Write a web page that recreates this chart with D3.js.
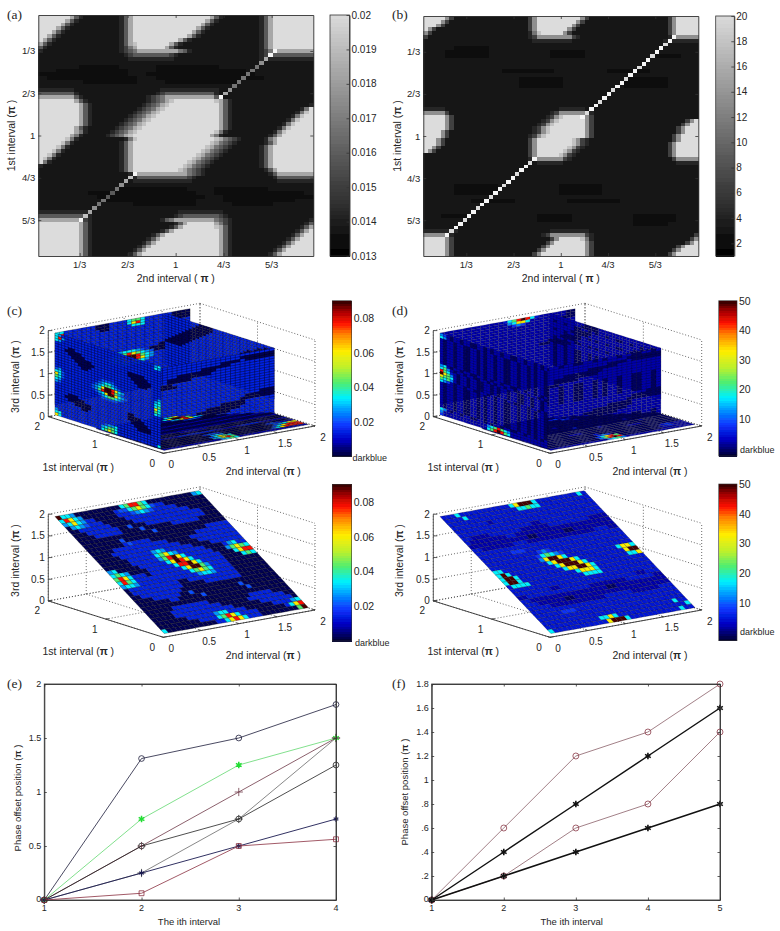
<!DOCTYPE html>
<html><head><meta charset="utf-8">
<style>html,body{margin:0;padding:0;background:#fff}svg{display:block}text{font-family:"Liberation Sans",Arial,sans-serif;fill:#262626}</style>
<script src="https://cdn.jsdelivr.net/npm/d3@7"></script></head><body>
<script>
// ---------- (a) gray levels: upper half of the map, lower half is its point reflection
const heatA=["9.7 7 4 2 1.8 2 4 7 9.17 7 4 2 1.8 2 4 7 9.9","9.6 7 4 2 1.9 2 4 7 9.16 7 4 2 1.9 2 4 7 9.9","9.5 7 4 2 1.10 2 4 7 9.15 7 4 2 1.10 2 4 7 9.9","9.4 7 4 2 1.11 2 4 7 9.14 7 4 2 1.11 2 4 7 9.9","9.3 7 4 2 1.12 2 4 7 9.13 7 4 2 1.12 2 4 7 9.9","9.2 7 4 2 1.13 2 4 7 9.12 7 4 2 1.13 2 4 7 9.9","9 7 4 2 1.14 2 4 7 9.10 7 4 2 1.15 2 4 7 9.9","7 4 2 1.15 2 4 7 8 9.7 7 4 2 1.17 2 4 7 9.9","4 2 1.16 2 3 5 7 9.6 7 4 2 1.18 2 4 7 9.9","2 1.17 2 3 4 5 7.9 5 4 2 1.15 2 3 5 7.9","1.19 2 3 4 4.7 3 2 1.18 2 3 4 4.9","1.20 2.10 1.19 2.12","1.61","1.9 0.9 1.8 0.14 1.21","1.4 0.16 1.6 0.20 1.15","0.20 1.4 0.24 1.13","1.2 0.20 1.4 0.24 1.11","1.10 0.12 1.6 0.16 1.17","1.61","2.8 1.19 2.13 1.21","4.8 2 1.17 2 3 4.11 2 1.21","7.8 4 2 1.14 2 3 4 5 7.11 4 2 1.20","9.8 7 4 2 1.13 2 3 4 5 7 8 9.10 7 4 2 1.18","9.9 7 4 2 1.11 2 3 4 5 7 8 9.11 7 4 2 1.17 2","9.9 7 4 2 1.10 2 3 4 5 7 8 9.12 7 4 2 1.15 2 5 9","9.9 7 4 2 1.9 2 3 4 5 7 8 9.13 7 4 2 1.14 2 5 8 9","9.9 7 4 2 1.8 2 3 4 5 7 8 9.14 7 4 2 1.13 2 5 8 9.2","9.9 7 4 2 1.7 2 3 4 5 7 8 9.15 7 4 2 1.12 2 5 8 9.3","9.9 7 4 2 1.6 2 3 4 5 7 8 9.16 7 4 2 1.11 2 5 8 9.4","9.8 7 4 2 1.6 2 3 4 5 7 8 9.17 7 4 2 1.10 2 5 8 9.5","9.8 7 5 2 1.5 2 3 4 5 7 8 9.17 8 5 2 1.10 2 5 8 9.6","9.7 7 5 2 1.5 2 3 4 5 7 8 9.17 7 5 2 1.10 2 4 7 9.7"];
const diagALower=[9,10,8,7,6,5,5,4,4,5,6,7,8,10];
const diagAUpper=[8,10,7,6,5,5,5,5,5,5,6,7,10,10];
// ---------- (b)
const heatB=["9.5 6 3 1.17 3 6 9.10 6 3 1.18 3 6 9.5","9.4 6 3 1.18 3 6 9.9 6 3 1.19 3 6 9.5","9.3 6 3 1.19 3 6 9.8 6 3 1.20 3 6 9.5","9 6 3 1.21 3 6 9.7 6 3 1.21 3 6 9.5","6 3 1.22 2 5 8 9.5 6 3 1.22 3 6 9.5","3 1.23 2 3 6.8 3 2 1.20 2 3 6.5","1.25 2.9 1.21 2.8","1.63","1.7 0.8 1.48","1.5 0.10 1.14 0.8 1.26","1.5 0.10 1.14 0.8 1.16 0.6 1.4","1.63","1.63","1.63","1.18 0.12 1.12 0.10 1.11","1.63","1.22 0.10 1.14 0.10 1.7","1.22 0.10 1.14 0.10 1.7","1.22 0.10 1.14 0.10 1.7","1.63","1.63","1.63","1.63","1.63","2.5 1.26 2.6 1.26","6.5 3 1.23 2 3 6.6 3 2 1.24","9.5 6 3 1.21 2 3 6 8 9.5 6 3 1.24","9.5 6 3 1.20 2 3 6 8 9.6 6 3 1.21 3 6 9","9.5 6 3 1.19 2 3 6 8 9.7 6 3 1.20 3 6 9.2","9.5 6 3 1.18 2 3 6 8 9.8 6 3 1.19 3 6 9.3","9.4 6 3 1.19 2 3 6 8 9.8 6 3 1.19 3 6 9.3","9.4 6 3 1.18 2 3 6 8 9.9 6 3 1.18 3 6 9.4"];
const diagB=[10,9,10,10,9,10,10,9,10,10,9,10,10,9,10,10,9,10,10,9,10,9,9,9,9,9,9,9,9,9,9,10,9,10,10,9,10,10,9,10,10,9,10,10,9,10,10,9,10,10,9,10,10];
const grayLevels=[0.05,0.1,0.18,0.29,0.41,0.53,0.65,0.76,0.88,1,1.12];
const tickThirds=["1/3","2/3","1","4/3","5/3"];
const tickThirdVals=[1/3,2/3,1,4/3,5/3];
const barATicks=[0.013,0.014,0.015,0.016,0.017,0.018,0.019,0.02];
const barBTicks=[2,4,6,8,10,12,14,16,18,20];
// ---------- (c) surfaces (levels 0..9 on the colour bar, _ = not shown)
const cLeftWall=["54 2.28 45","584 2.27 54","54 2.30","2.32","2.4 0.2 2.26","2.3 0.5 2.24","2.4 0.5 2.13 0.5 2.5","2.5 0.6 2.11 0.6 2.4","2.6 0.6 2.11 0.6 2.3","2.7 0.4 2.13 0.5 2.3","2.8 0.2 2.15 0.3 2.4","2.32","2.14 3.4 2.14","34 2.11 345543 2.12 4","553 2.9 34566543 2.10 45","753 2.8 3457998754 2.9 55","653 2.8 3468998643 2.9 56","54 2.10 3457997543 2.8 75","43 2.11 34566543 2.9 65","2.14 3.5 2.11 54","2.32","2.32","2.4 0.3 2.15 0.2 2.8","2.3 0.6 2.13 0.4 2.6","2.4 0.7 2.11 0.5 2.5","2.6 0.5 2.12 0.5 2.4","2.8 0.2 2.14 0.5 2.3","2.25 0.4 2.3","2.32","4 2.14 3445 2.13","55 2.12 45665 2.13","75 2.12 56765 2.12 5"];
const cBackWall=["55 2.7 000 2.4 5665 2.6 0.4","58 2.7 000 2.4 5785 2.6 0.4","5 2.9 00 2.5 555 2.6 0.6","2.30","2.30","2.30","2.30","2.30","2.30","2.30","2.25 0.3 2.2","2.23 0.5 2.2","2.13 34555432 0.5 2.4","2.12 3456876543 0.3 2.5","2.12 4568998654 2.8","2.12 4567998754 2.8","2.13 45677654 2.9","2.14 455554 2.10","2.30","2.30","2.30","2.30","2.30","2.30","2.30","2.30","2.30","2.30"];
const cSideWall=["2.10 0.4 2.18","2.9 0.5 2.15 0.3","2.8 0.5 2.14 0.5","2.7 0.5 2.14 0.6","2.6 0.5 2.13 0.6 2.2","2.5 0.5 2.13 0.6 2.3","2.4 0.5 2.13 0.6 2.4","2.3 0.5 2.15 0.4 2.5","2.2 0.5 2.25","2 0.5 2.26","0.5 2.27","2.32","2.32","2.32","2.32","2.32","2.32","2.32","2.32","2.32"];
const cFrontWall=["2.25","2.18 0.7","2.14 0.4 2 0.6","2.10 0.6 2.9","2.5 0.8 2.12","2.3 0.9 2.13","2.3 0.5 2.17","0.4 2.21","2 0.4 2.20","2.25","2.25","2.25","2.25","2.25","2.25","2.22 0.3","2.19 0.6","2.18 0.7","2.14 0.5 2.6","2.11 0.8 2.6","2.9 0.9 2.7","2.9 0.7 2.9","2.10 0.3 2.12","2.25","2.25","2.25"];
const cFloor=["1.13 3 _.18","1.14 567 _.15","1.13 579986 _.13","1.14 4578754 _.11","0.16 2332000 _.9","0.25 _.7","1.27 _.5","0.29 _.3","1.31 _","0.32","1.32","0.10 1.6 0.16","0.32","1.8 2.8 1.6 2.4 1.6","0.32","0.12 2332 0.10 2321","0.13 454 0.11 3457","0.12 35765 0.9 3578","0.12 45786 0.8 3578","1.13 4565 1.14"];
const cPlane=["9554 0.10 568865 0.10 45","58754 0.7 233 56765 322 0.9","45754 22 0.5 2223 454 322222 0.7","0454 3222 0.5 2.14 0.5","00 2.7 0.5 2.15 000","000 2.7 00 3 000 2.13 000","0.4 2.6 0.4 3 0.6 2.6 0.5","0.16 3 0.15","0.8 3 0.18 2.5","0.8 232222 0.10 2.8","0.5 2.12 0.5 2.10","0.4 2.15 0.4 2.9","0.5 2.7 454 2.6 0.4 2.7","0.6 2.6 56754 2.6 0.4 24522","0.6 2.6 468975 2.6 000 46765","45 0.5 2.6 579875 2.6 000 5788","5654 0.4 2.6 588975 2.5 0.4 565","6875 222 0 2.7 579964 2.4 0.7","5865 2.12 56765 2.4 0.7","4554 2.13 4554 2.4 0.7","0 2.11 00 2.11 0.7","0 2.11 0.5 2.8 0.7","00 2.9 0.21","0.4 2.6 00 3 0.10 3 0.8","0.7 22 0.5 3 0.9 3 0.7","0.32","0.6 2.8 0.9 2.5 0.4","0.5 2.11 0.6 2.8 00","0.5 2.13 0.6 2.7 0","0.7 2.6 455 2.4 0.6 222 245","0.9 2.4 56875 2.4 0.6 2 578","5 0.11 22 57875 222 0.8 69"];
const cBarTicks=[0.02,0.04,0.06,0.08];
// ---------- (d) surfaces
const dWallRow="10110110011010110110011011010110";
const dLeftWall=["43"+dWallRow,"54"+dWallRow,dWallRow,dWallRow,dWallRow,dWallRow,dWallRow,dWallRow,dWallRow,dWallRow,dWallRow,dWallRow,"45"+dWallRow,"564"+dWallRow,"8652"+dWallRow,"9764"+dWallRow,"7665"+dWallRow,"6564"+dWallRow,"543"+dWallRow,dWallRow,dWallRow,dWallRow,dWallRow,dWallRow,dWallRow,dWallRow,dWallRow,dWallRow,dWallRow,"54"+dWallRow,"4 1.13 4568654 1.11","3 1.13 5689865 1.11"];
const dBackWall=["1.14 2568985 2 1.6 0.2","1.15 45775 1.8 0.2","1.16 343 1.8 0.2","1.30","1.30","1.30","1.30","1.30","1.30","1.30","1.24 0.4 1.2","1.22 0.5 1.3","1.30","1.30","1.30","1.30","1.30","1.30","1.30","1.30","1.30","1.30","1.30","1.30","1.30","1.30","1.30","1.30"];
const dSideWall=["1.10 0.4 1.18","1.9 0.5 1.15 0.3",dWallRow,"1.7 0.5 1.14 0.6","1.6 0.5 1.13 0.6 1.2",dWallRow,"1.4 0.5 1.13 0.6 1.4","1.3 0.5 1.15 0.4 1.5",dWallRow,"1 0.5 1.26","0.5 1.27",dWallRow,dWallRow,dWallRow,dWallRow,dWallRow,dWallRow,dWallRow,dWallRow,dWallRow];
const dFrontWall=[dWallRow,"1.18 0.7","1.14 0.4 1 0.6","1.10 0.6 1.9","1.5 0.8 1.12","1.3 0.9 1.13","1.3 0.5 1.17","0.4 1.21",dWallRow,dWallRow,dWallRow,dWallRow,dWallRow,dWallRow,dWallRow,"1.22 0.3","1.19 0.6","1.18 0.7","1.14 0.5 1.6","1.11 0.8 1.6","1.9 0.9 1.7","1.9 0.7 1.9","1.10 0.3 1.12",dWallRow,dWallRow,dWallRow];
const dFloor=["0.13 1 _.18","0.15 1 _.16","0.13 2 3 1 0 1 0 _.13","0.15 3 2 0.3 1 _.11","0.17 1 0.4 _.10","1 0 1 0.22 _.7","0.27 _.5","0.10 1 0.18 _.3","0.31 _","1 0.12 2 0.10 1 0.7","0.32","0.17 1 0.8 1 0.5","1 0.31","0.9 1.3 0.10 1.3 0.7","0.32","0.13 2 0.18","0.13 3 4 3 0.11 2 3 1","0.12 35786 0.9 1 2 3 1","0.12 46898 0.9 1 1 1","1.13 4564 1.14"];
const dPlane=["222 5 2.11 579995 2.9 5 2","2222 5 2.11 55655 2.11","2.32","2.8 1 2.23","2.32","2.16 11 2.14","22 1.4 2.7 1.6 2.9 1.4","2 1.8 22 1.21","1.13 00 1.6 00 1.9","22 1.7 2.3 1.15 2.3 11","2.32","2.7 333 2.22","2.12 343 2.17","2.11 356543 2.15","2.11 4799752 2.10 5775","55 2.10 5799975 2.9 2799","595 2.10 5799975 2.9 557","5995 2.10 5779975 2.11","5995 2.11 2577752 2.10","25555 2.12 5555 2.11","2.32","2.8 11 2.17 11 22","11 2.14 1.8 2.6 11","22 1.17 00 1.11","222 1.6 00 1.21","2.5 1.12 2.6 1.6 222","2.32","2.6 333 2.23","2.32","2.29 5 22","2.12 55752 2.14 5","5 2.12 79995 2.11 5 22"];
const dBarTicks=[10,20,30,40,50];
// level of a surface cell → position on its colour bar
const surfaceLevels=[0.02,0.09,0.16,0.22,0.29,0.37,0.47,0.66,0.85,0.98];
const surfaceLevelsD=[0.03,0.085,0.135,0.19,0.27,0.37,0.47,0.66,0.85,0.98];
const jetPos=[0,0.1,0.2,0.3,0.37,0.47,0.56,0.67,0.78,0.85,0.93,1];
const jetCol=["#000038","#0000c0","#0a38ff","#00a0ff","#00f0ff","#50ee70","#b8f030","#ffee00","#ff8000","#ff1000","#a00000","#200000"];
const tickS2=[0,0.5,1,1.5,2],tickS1=[0,1,2],tickZ=[0,0.5,1,1.5,2];
// ---------- (e)
const eX=[1,2,3,4];
const eA=[0,1.31,1.5,1.81],eB=[0,0.75,1.25,1.5],eC=[0,0.5,1,1.5],eD=[0,0.5,0.75,1.25],eE=[0,0.25,0.75,1.5],eF=[0,0.25,0.5,0.75],eG=[0,0.0625,0.5,0.5625];
const eYTicks=[0,0.5,1,1.5,2],eYLabels=["0","0.5","1","1.5","2"];
// ---------- (f)
const fX=[1,2,3,4,5];
const fA=[0,0.6,1.2,1.4,1.8],fB=[0,0.4,0.8,1.2,1.6],fC=[0,0.2,0.6,0.8,1.4],fD=[0,0.2,0.4,0.6,0.8];
const fYTicks=[0,0.2,0.4,0.6,0.8,1,1.2,1.4,1.6,1.8],fYLabels=["0",".2",".4",".6",".8","1","1.2","1.4","1.6","1.8"];

const svg=d3.select("body").append("svg").attr("width",780).attr("height",931);
const defs=svg.append("defs");
[["soft",0.75],["soft3",0.35]].forEach(([id,s])=>defs.append("filter").attr("id",id).attr("x","-5%").attr("y","-5%").attr("width","110%").attr("height","110%").append("feGaussianBlur").attr("stdDeviation",s));

function decode(row,w){let s="";row.split(" ").forEach(t=>{if(t.includes(".")){const[a,b]=t.split(".");s+=a.repeat(+b)}else s+=t});
  if(s.length<w)s=s.padEnd(w,s[s.length-1]);return s.slice(0,w)}
function txt(x,y,t,o={}){const e=svg.append("text").attr("x",x).attr("y",y).attr("font-size",o.size||10).attr("text-anchor",o.anchor||"middle").attr("dominant-baseline","central");
  if(o.rot)e.attr("transform",`rotate(${o.rot} ${x} ${y})`);if(o.family)e.style("font-family",o.family);
  if(o.pi){e.append("tspan").text(t[0]);e.append("tspan").attr("font-weight","bold").text("π");e.append("tspan").text(t[1])}else e.text(t);return e}
function panelLabel(x,y,t){txt(x,y,t,{size:13.5,anchor:"start",family:'"Liberation Serif",serif'})}
function axisStyle(g){g.selectAll("path").attr("stroke","#333").attr("stroke-width",0.9);g.selectAll("line").attr("stroke","#333").attr("stroke-width",0.8);g.selectAll("text").remove()}

// ---------- 2-D gray maps
function grayMap(o){
  const half=o.rows.map(r=>decode(r,o.cols).split("").map(Number));
  const full=half.slice();
  for(let r=o.rows.length;r<o.nrows;r++)full.push(half[o.nrows-1-r].slice().reverse());
  o.diags.forEach(d=>d.levels.forEach((l,i)=>{if(full[d.row-i])full[d.row-i][d.col+i]=l}));
  const x=d3.scaleLinear([0,o.cols],[o.x0,o.x1]),y=d3.scaleLinear([0,o.nrows],[o.y0,o.y1]);
  const frac=d3.scaleLinear([0,1],o.domain),gray=d3.scaleLinear(o.domain,["#000000","#dcdcdc"]);
  const g=svg.append("g").attr("filter","url(#soft)").attr("shape-rendering","crispEdges");
  full.forEach((row,r)=>row.forEach((v,c)=>g.append("rect").attr("x",x(c)).attr("y",y(r)).attr("width",x(1)-x(0)+0.5).attr("height",y(1)-y(0)+0.5).attr("fill",gray(frac(grayLevels[v])))));
  const tx=d3.scaleLinear(o.tdomX,[o.x0,o.x1]),ty=d3.scaleLinear(o.tdomY,[o.y0,o.y1]);
  const ax=[d3.axisBottom(tx).tickSizeInner(-3).tickSizeOuter(0),d3.axisTop(tx).tickSizeInner(-3).tickSizeOuter(0)];
  const bg=svg.append("g");
  bg.append("g").attr("transform",`translate(0,${o.y1})`).call(ax[0].tickValues(tickThirdVals)).call(axisStyle);
  bg.append("g").attr("transform",`translate(0,${o.y0})`).call(ax[1].tickValues(tickThirdVals)).call(axisStyle);
  bg.append("g").attr("transform",`translate(${o.x0},0)`).call(d3.axisLeft(ty).tickValues(tickThirdVals).tickSizeInner(-3).tickSizeOuter(0)).call(axisStyle);
  bg.append("g").attr("transform",`translate(${o.x1},0)`).call(d3.axisRight(ty).tickValues(tickThirdVals).tickSizeInner(-3).tickSizeOuter(0)).call(axisStyle);
  tickThirdVals.forEach((v,i)=>{txt(tx(v),o.y1+8,tickThirds[i],{size:9.5});txt(o.x0-3,ty(v),tickThirds[i],{size:9.5,anchor:"end"})});
  txt((o.x0+o.x1)/2,o.y1+22,["2nd interval ( "," )"],{pi:1,size:10.5});
  txt(o.ytitleX,(o.y0+o.y1)/2,["1st interval ("," )"],{pi:1,size:10.5,rot:-90});
  // colour bar
  const by=d3.scaleLinear(o.domain,[o.y1,o.y0]),steps=d3.range(64);
  const bv=d3.scaleLinear([0,64],o.domain);
  const bb=svg.append("g").attr("filter","url(#soft3)").attr("shape-rendering","crispEdges");
  steps.forEach(i=>bb.append("rect").attr("x",o.bx0).attr("width",o.bx1-o.bx0).attr("y",by(bv(i+1))).attr("height",by(bv(i))-by(bv(i+1))+0.5).attr("fill",gray(bv(i))));
  svg.append("rect").attr("x",o.bx0).attr("y",o.y0).attr("width",o.bx1-o.bx0).attr("height",o.y1-o.y0).attr("fill","none").attr("stroke","#333").attr("stroke-width",0.8);
  svg.append("g").attr("transform",`translate(${o.bx1},0)`).call(d3.axisRight(by).tickValues(o.barTicks).tickSizeInner(-3).tickSizeOuter(0)).call(axisStyle);
  o.barTicks.forEach(v=>txt(o.bx1+2,by(v),o.fmt(v),{size:10,anchor:"start"}));
}
grayMap({rows:heatA,cols:61,nrows:63,x0:38.3,x1:313.3,y0:15,y1:256,domain:[0.013,0.02],tdomX:[0.046,1.956],tdomY:[0.05,1.95],bx0:330,bx1:349.5,barTicks:barATicks,fmt:d3.format(".3~f"),ytitleX:11,
  diags:[{col:8,row:54,levels:diagALower},{col:39,row:22,levels:diagAUpper}]});
grayMap({rows:heatB,cols:63,nrows:63,x0:423.3,x1:698.3,y0:16,y1:256,domain:[1,20],tdomX:[0.03,1.97],tdomY:[0.05,1.95],bx0:715.7,bx1:734.3,barTicks:barBTicks,fmt:String,ytitleX:397,
  diags:[{col:5,row:57,levels:diagB}]});
panelLabel(7,14,"(a)");panelLabel(392,14,"(b)");

// ---------- 3-D panels
const step=1.9/32,leftStep=1.84/32,frontStep=1.6/25;
function panel3d(o){
  const sx2=d3.scaleLinear([0,2],[0,o.v2[0]]),sy2=d3.scaleLinear([0,2],[0,o.v2[1]]);
  const sx1=d3.scaleLinear([0,2],[0,o.v1[0]]),sy1=d3.scaleLinear([0,2],[0,o.v1[1]]);
  const sz=d3.scaleLinear([0,2],[0,o.vz]);
  const P=(s2,s1,z)=>[o.O[0]+sx2(s2)+sx1(s1),o.O[1]+sy2(s2)+sy1(s1)+sz(z)];
  const max=o.barDomain,barT=d3.scaleLinear([0,1],max);
  const color=d3.scaleLinear(jetPos.map(barT),jetCol);
  const levels=o.levels||surfaceLevels;
  const line=(a,b,st,sw,da)=>{const e=svg.append("line").attr("x1",a[0]).attr("y1",a[1]).attr("x2",b[0]).attr("y2",b[1]).attr("stroke",st).attr("stroke-width",sw);if(da)e.attr("stroke-dasharray",da);return e};
  // dotted box
  const dot=(a,b)=>line(a,b,"#444",0.8,"1 2");
  tickZ.forEach(z=>{dot(P(0,2,z),P(2,2,z));dot(P(2,2,z),P(2,0,z))});
  tickS2.forEach(s=>{dot(P(s,2,0),P(s,2,2));dot(P(s,2,0),P(s,0,0))});
  tickS1.forEach(s=>{dot(P(2,s,0),P(2,s,2));dot(P(0,s,0),P(2,s,0))});
  // surfaces
  const g=svg.append("g").attr("filter","url(#soft3)");
  function surface(rows,ncols,corner,meshOp){
    rows.forEach((row,v)=>{decode(row,ncols).split("").forEach((ch,u)=>{if(ch==="_")return;
      const pts=[corner(u,v),corner(u+1,v),corner(u+1,v+1),corner(u,v+1)];
      g.append("polygon").attr("points",pts.map(p=>p.join(",")).join(" ")).attr("fill",color(barT(levels[+ch]))).attr("stroke","#000").attr("stroke-opacity",meshOp).attr("stroke-width",0.5)})});
  }
  const a=i=>0.05+i*step,b=i=>1.95-i*step,bl=i=>1.95-i*leftStep,f=i=>-0.1+i*frontStep;
  if(o.back){surface(o.back,30,(u,v)=>P(a(u),1.95,b(v)),o.mesh);}
  if(o.side){surface(o.side,32,(u,v)=>P(1.5,b(u),b(v)),o.mesh);}
  if(o.front){surface(o.front,25,(u,v)=>P(f(u),0.05,b(v)),o.mesh);}
  if(o.floor){surface(o.floor,32,(u,v)=>P(a(u),b(v+12),0.03),o.mesh);}
  if(o.left){surface(o.left,32,(u,v)=>P(0.05,bl(u),b(v)),o.mesh);}
  if(o.plane){surface(o.plane,32,(u,v)=>P(a(u),b(v),b(v)),o.mesh);}
  // axes
  line(P(0,2,0),P(0,0,0),"#333",0.9);line(P(0,0,0),P(2,0,0),"#333",0.9);line(P(0,2,0),P(0,2,2),"#555",1);
  tickZ.forEach(z=>{const p=P(0,2,z);line(p,[p[0]+4,p[1]],"#333",0.8);txt(p[0]-3.5,p[1],String(z),{size:10,anchor:"end"})});
  tickS1.forEach(s=>{const p=P(0,s,0);line(p,[p[0]+3,p[1]-0.6],"#333",0.8);txt(p[0]-11,p[1]+10,String(s),{size:10})});
  tickS2.forEach(s=>{const p=P(s,0,0);line(p,[p[0]-2.8,p[1]-0.9],"#333",0.8);txt(p[0]+8,p[1]+11,String(s),{size:10})});
  txt(P(0,2,0)[0]+30,o.O[1]+14,["1st interval ("," )"],{pi:1,size:10.5});
  txt(o.O[0]+100,o.O[1]+18,["2nd interval ("," )"],{pi:1,size:10.5});
  txt(o.ztitleX,P(0,2,1)[1]+3,["3rd interval ("," )"],{pi:1,size:10.5,rot:-90});
  // colour bar
  const by=d3.scaleLinear(max,[o.by1,o.by0]),bv=d3.scaleLinear([0,64],max);
  const bb=svg.append("g").attr("filter","url(#soft3)").attr("shape-rendering","crispEdges");
  d3.range(64).forEach(i=>bb.append("rect").attr("x",o.bx0).attr("width",o.bx1-o.bx0).attr("y",by(bv(i+1))).attr("height",by(bv(i))-by(bv(i+1))+0.5).attr("fill",color(bv(i))));
  svg.append("rect").attr("x",o.bx0).attr("y",o.by0).attr("width",o.bx1-o.bx0).attr("height",o.by1-o.by0).attr("fill","none").attr("stroke","#333").attr("stroke-width",0.6);
  o.barTicks.forEach(v=>txt(o.bx1+2,by(v),String(v),{size:10.5,anchor:"start"}));
  txt(o.dbx,o.dby,"darkblue",{size:9,anchor:"start"});
}
panel3d({O:[163.3,453.3],v2:[151.7,-27.3],v1:[-115,-36.7],vz:-86,back:cBackWall,side:cSideWall,front:cFrontWall,floor:cFloor,left:cLeftWall,mesh:0.55,
  barDomain:[0,0.09],barTicks:cBarTicks,bx0:332.3,bx1:351.7,by0:300.7,by1:456.7,dbx:352.5,dby:458,ztitleX:15});
panel3d({O:[163.3,637.3],v2:[151.7,-27.3],v1:[-115,-36.4],vz:-86.7,plane:cPlane,mesh:0.55,
  barDomain:[0,0.09],barTicks:cBarTicks,bx0:332.3,bx1:351.7,by0:484.3,by1:641,dbx:355,dby:642.5,ztitleX:15});
panel3d({O:[550,453.3],v2:[151.7,-27.3],v1:[-116.7,-36.7],vz:-86,back:dBackWall,side:dSideWall,front:dFrontWall,floor:dFloor,left:dLeftWall,mesh:0.3,levels:surfaceLevelsD,
  barDomain:[-2.7,50],barTicks:dBarTicks,bx0:718.7,bx1:737,by0:300.7,by1:456,dbx:740,dby:449.5,ztitleX:399});
panel3d({O:[550,637.3],v2:[151.7,-27.3],v1:[-116.7,-36.4],vz:-86.7,plane:dPlane,mesh:0.45,levels:surfaceLevelsD,
  barDomain:[-2.7,50],barTicks:dBarTicks,bx0:718.7,bx1:737,by0:484,by1:640.7,dbx:740,dby:632,ztitleX:399});
panelLabel(7,310,"(c)");panelLabel(392,310,"(d)");

// ---------- line panels
function linePanel(o){
  const x=d3.scaleLinear(o.xd,[o.x0,o.x1]),y=d3.scaleLinear(o.yd,[o.y1,o.y0]);
  svg.append("rect").attr("x",o.x0).attr("y",o.y0).attr("width",o.x1-o.x0).attr("height",o.y1-o.y0).attr("fill","none").attr("stroke","#444").attr("stroke-width",0.9);
  const g=svg.append("g");
  const ax=(gen,t)=>svg.append("g").attr("transform",t).call(gen).call(axisStyle);
  ax(d3.axisBottom(x).tickValues(o.xs).tickSizeInner(-2.5).tickSizeOuter(0),`translate(0,${o.y1})`);
  ax(d3.axisTop(x).tickValues(o.xs).tickSizeInner(-2.5).tickSizeOuter(0),`translate(0,${o.y0})`);
  ax(d3.axisLeft(y).tickValues(o.yt).tickSizeInner(-2.5).tickSizeOuter(0),`translate(${o.x0},0)`);
  ax(d3.axisRight(y).tickValues(o.yt).tickSizeInner(-2.5).tickSizeOuter(0),`translate(${o.x1},0)`);
  const ln=d3.line().x((d,i)=>x(o.xs[i])).y(d=>y(d));
  o.series.forEach(s=>{
    g.append("path").attr("d",ln(s.v)).attr("fill","none").attr("stroke",s.c).attr("stroke-width",s.w);
    const sym=d3.symbol().type(s.m).size(s.size);
    s.v.forEach((d,i)=>g.append("path").attr("transform",`translate(${x(o.xs[i])},${y(d)})`).attr("d",sym()).attr("fill",s.fill||"none").attr("stroke",s.mc||s.c).attr("stroke-width",s.mw||0.8));
  });
  o.xs.forEach(v=>txt(x(v),o.y1+8,String(v),{size:9}));
  o.yt.forEach((v,i)=>txt(o.x0-3,y(v)+(i===0?-1:0),o.yl[i],{size:9,anchor:"end"}));
  txt(o.xtx,921,"The ith interval",{size:9.5});
  txt(o.ytx,o.yty,["Phase offset position ("," )"],{pi:1,size:9.5,rot:-90});
}
linePanel({x0:44.3,x1:336,y0:684,y1:900,xd:[1,4],yd:[0,2],xs:eX,yt:eYTicks,yl:eYLabels,xtx:189,ytx:17,yty:798,series:[
  {v:eA,c:"#1c1c3a",w:0.8,m:d3.symbolCircle,size:26},
  {v:eE,c:"#6a6a6a",w:0.8,m:d3.symbolPlus,size:24,mc:"#333"},
  {v:eB,c:"#74dc80",w:0.9,m:d3.symbolAsterisk,size:30,mc:"#22dd33",mw:1.5},
  {v:eC,c:"#6e3848",w:0.8,m:d3.symbolPlus,size:24},
  {v:eD,c:"#222",w:0.8,m:d3.symbolCircle,size:26},
  {v:eF,c:"#1a1a50",w:0.9,m:d3.symbolAsterisk,size:20,mw:1.2},
  {v:eG,c:"#8a3040",w:0.8,m:d3.symbolSquare,size:24}]});
linePanel({x0:431.7,x1:720,y0:684,y1:900,xd:[1,5],yd:[0,1.8],xs:fX,yt:fYTicks,yl:fYLabels,xtx:571.7,ytx:404,yty:792,series:[
  {v:fA,c:"#8a6068",w:0.8,m:d3.symbolCircle,size:28,mc:"#8a3a48"},
  {v:fC,c:"#8a6068",w:0.8,m:d3.symbolCircle,size:28,mc:"#8a3a48"},
  {v:fB,c:"#111",w:1.5,m:d3.symbolAsterisk,size:30,mw:1.6},
  {v:fD,c:"#111",w:1.5,m:d3.symbolAsterisk,size:30,mw:1.6}]});
panelLabel(7,683,"(e)");panelLabel(392,683,"(f)");
</script></body></html>
